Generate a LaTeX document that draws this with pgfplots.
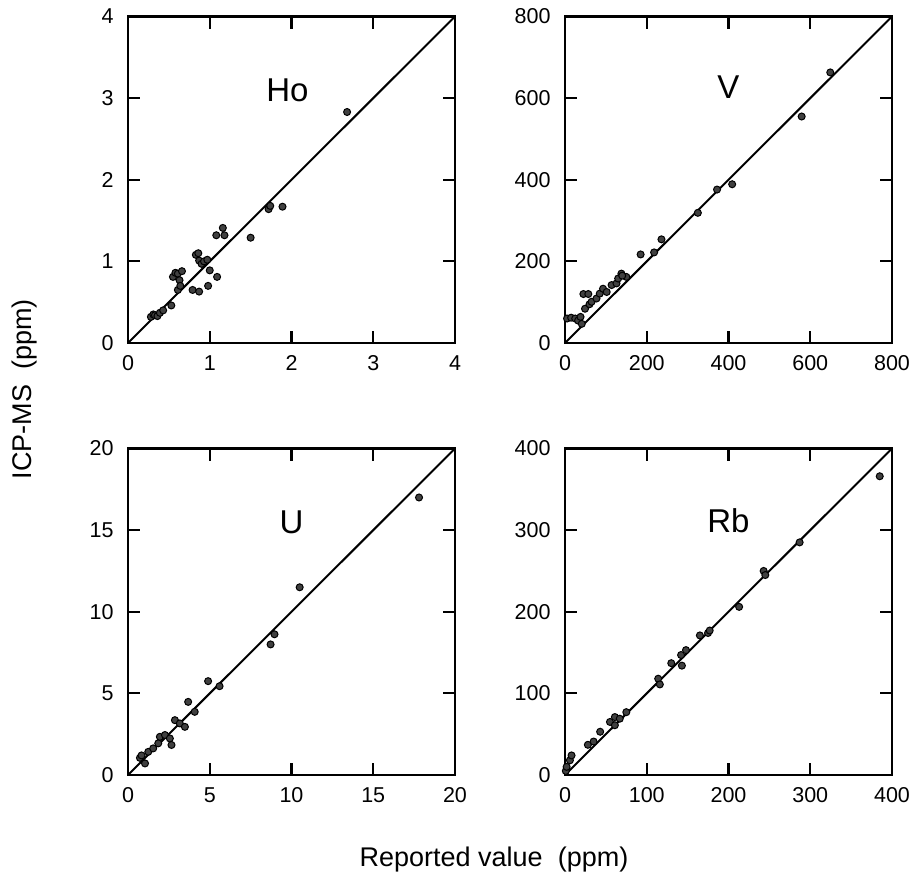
\documentclass[border=0pt]{standalone}
\usepackage{fontspec}
\setmainfont{Liberation Sans}
\usepackage{pgfplots}
\pgfplotsset{compat=1.18}
\pgfplotsset{
  panel/.style={
    scale only axis, width=327pt, height=326.5pt, anchor=south west,
    axis line style={line width=2.6pt},
    tick style={line width=2.2pt, black},
    major tick length=12pt, tick align=inside,
    xtick pos=both, ytick pos=both,
    xticklabel pos=bottom, yticklabel pos=left,
    ticklabel style={font=\fontsize{21.5}{24}\selectfont},
    xticklabel style={yshift=-9pt},
    yticklabel style={xshift=-11pt},
    /pgf/number format/assume math mode=true,
    clip=false,
  },
  pts/.style={only marks, mark=*, mark size=3.5pt,
    mark options={fill=black!75, draw=black, line width=1pt}},
  oneline/.style={no marks, line width=2pt, black},
}
\tikzset{plab/.style={font=\fontsize{33}{38}\selectfont}}
\begin{document}
\begin{tikzpicture}
\path[use as bounding box] (0pt,0pt) rectangle (916pt,-881pt);
% Ho
\begin{axis}[panel, at={(128pt,-343pt)}, xmin=0, xmax=4, ymin=0, ymax=4,
  xtick={0,1,2,3,4}, ytick={0,1,2,3,4}]
\addplot[oneline] coordinates {(0,0) (4,4)};
\addplot[pts] coordinates {
(0.28,0.32) (0.31,0.35) (0.33,0.34) (0.36,0.33) (0.39,0.37) (0.43,0.40)
(0.53,0.46) (0.55,0.81) (0.58,0.86) (0.61,0.85) (0.63,0.77) (0.61,0.65)
(0.64,0.70) (0.66,0.88) (0.79,0.65) (0.87,0.63) (0.98,0.70) (0.83,1.08)
(0.86,1.10) (0.87,1.01) (0.90,0.97) (0.93,1.00) (0.97,1.02) (1.00,0.89)
(1.09,0.81) (1.08,1.32) (1.16,1.41) (1.18,1.32) (1.50,1.29) (1.72,1.64)
(1.74,1.68) (1.89,1.67) (2.68,2.83)};
\node[plab] at (axis cs:1.95,3.1) {Ho};
\end{axis}
% V
\begin{axis}[panel, at={(565pt,-343pt)}, xmin=0, xmax=800, ymin=0, ymax=800,
  xtick={0,200,400,600,800}, ytick={0,200,400,600,800}]
\addplot[oneline] coordinates {(0,0) (800,800)};
\addplot[pts] coordinates {
(5,60) (15,62) (25,60) (32,55) (38,64) (41,47) (45,120) (57,120) (49,84)
(60,95) (65,101) (77,109) (85,121) (93,133) (102,125) (114,142) (126,146)
(130,158) (138,170) (150,162) (140,165) (185,217) (218,222) (236,254)
(325,319) (372,376) (409,389) (579,555) (649,663)};
\node[plab] at (axis cs:400,628) {V};
\end{axis}
% U
\begin{axis}[panel, at={(128pt,-775pt)}, xmin=0, xmax=20, ymin=0, ymax=20,
  xtick={0,5,10,15,20}, ytick={0,5,10,15,20}]
\addplot[oneline] coordinates {(0,0) (20,20)};
\addplot[pts] coordinates {
(0.73,1.05) (0.83,1.2) (1.04,0.71) (1.24,1.42) (1.54,1.63) (1.85,1.94)
(1.95,2.34) (2.26,2.45) (2.56,2.24) (2.66,1.84) (2.87,3.36) (3.17,3.16)
(3.48,2.95) (3.68,4.48) (4.08,3.87) (4.90,5.75) (5.60,5.44) (8.72,8.0)
(8.96,8.62) (10.5,11.5) (17.8,17.0)};
\node[plab] at (axis cs:10,15.5) {U};
\end{axis}
% Rb
\begin{axis}[panel, at={(565pt,-775pt)}, xmin=0, xmax=400, ymin=0, ymax=400,
  xtick={0,100,200,300,400}, ytick={0,100,200,300,400}]
\addplot[oneline] coordinates {(0,0) (400,400)};
\addplot[pts] coordinates {
(1,5) (2,10) (6,18) (8,24) (28,37) (35,41) (43,53) (55,65) (61,61) (61,71)
(67,69) (75,77) (114,118) (116,111) (130,137) (143,134) (142,147) (148,153)
(165,171) (175,174) (177,177) (213,206) (243,250) (245,245) (287,285)
(385,366)};
\node[plab] at (axis cs:200,311) {Rb};
\end{axis}
\node[rotate=90, font=\fontsize{27}{30}\selectfont] at (25pt,-389pt) {ICP-MS\ \ (ppm)};
\node[font=\fontsize{27}{30}\selectfont] at (494pt,-860pt) {Reported value\ \ (ppm)};
\end{tikzpicture}
\end{document}
